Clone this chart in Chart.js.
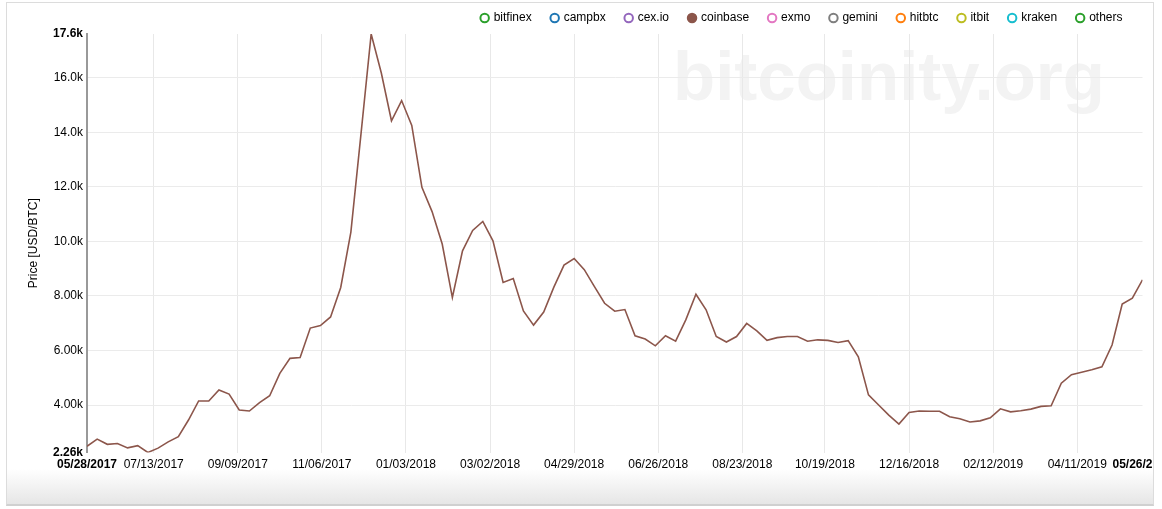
<!DOCTYPE html>
<html lang="en">
<head>
  <meta charset="UTF-8" />
  <title>Price [USD/BTC]</title>
  <script src="https://cdn.jsdelivr.net/npm/chart.js@4.4.1/dist/chart.umd.min.js"></script>
  <style>
    html, body { margin: 0; padding: 0; background: #fff; }
    body { width: 1162px; height: 509px; position: relative; overflow: hidden; }
    #frame {
      position: absolute; left: 6px; top: 2px; width: 1146px; height: 501px;
      border: 1px solid #dcdcdc; border-bottom: 2px solid #d0d0d0;
      background: linear-gradient(to bottom, #fff 0%, #fff 93%, #e6e6e6 100%);
    }
    #priceChart { position: absolute; left: 0; top: 0; }
  </style>
</head>
<body>
  <div id="frame"></div>
  <canvas id="priceChart" width="1153" height="509"></canvas>

  <script>
    // exchanges in the legend, only coinbase is switched on
    const exchanges = ['bitfinex', 'campbx', 'cex.io', 'coinbase', 'exmo', 'gemini', 'hitbtc', 'itbit', 'kraken', 'others'];
    const exchangeColors = ['#2ca02c', '#1f77b4', '#9467bd', '#8c564b', '#e377c2', '#7f7f7f', '#ff7f0e', '#bcbd22', '#17becf', '#2ca02c'];
    const activeExchange = 'coinbase';

    // weekly coinbase price, first week starts 05/28/2017
    const startDate = '05/28/2017';
    const stepDays = 7;
    const coinbasePrice = [
      2490, 2750, 2560, 2590, 2430, 2510, 2260, 2420, 2650, 2840,
      3450, 4150, 4150, 4550, 4400, 3820, 3780, 4090, 4340, 5160,
      5710, 5740, 6820, 6910, 7230, 8310, 10340, 13950, 17600, 16170,
      14420, 15160, 14250, 11980, 11090, 9900, 7940, 9650, 10400, 10730,
      10020, 8490, 8640, 7450, 6930, 7410, 8320, 9130, 9370, 8960,
      8340, 7730, 7440, 7500, 6540, 6420, 6170, 6540, 6340, 7120,
      8060, 7490, 6510, 6310, 6510, 6990, 6720, 6370, 6470, 6510,
      6510, 6340, 6390, 6370, 6290, 6360, 5770, 4370, 4000, 3630,
      3300, 3730, 3780, 3770, 3770, 3570, 3500, 3380, 3420, 3530,
      3860, 3750, 3790, 3850, 3950, 3970, 4800, 5110, 5200, 5290,
      5400, 6200, 7700, 7920, 8590
    ];

    const xTickLabels = ['05/28/2017', '07/13/2017', '09/09/2017', '11/06/2017', '01/03/2018', '03/02/2018',
      '04/29/2018', '06/26/2018', '08/23/2018', '10/19/2018', '12/16/2018', '02/12/2019', '04/11/2019', '05/26/2019'];
    const yTickValues = [2260, 4000, 6000, 8000, 10000, 12000, 14000, 16000, 17600];

    const FONT = 'Liberation Sans, Arial, Helvetica, sans-serif';

    function dayOffset(s) {
      const [m, d, y] = s.split('/').map(Number);
      const [m0, d0, y0] = startDate.split('/').map(Number);
      return (Date.UTC(y, m - 1, d) - Date.UTC(y0, m0 - 1, d0)) / 86400000;
    }

    const datasets = exchanges.map((name, i) => ({
      label: name,
      data: name === activeExchange
        ? coinbasePrice.map((v, k) => ({ x: k * stepDays, y: v }))
        : [],
      borderColor: exchangeColors[i],
      backgroundColor: exchangeColors[i],
      borderWidth: 1.6,
      pointRadius: 0,
      tension: 0
    }));

    // first and last tick labels are bold
    const edgeFont = count => ctx => ({
      family: FONT, size: 12,
      weight: (ctx.index === 0 || ctx.index === count - 1) ? 'bold' : 'normal'
    });

    // big faint site name behind the grid
    const watermark = {
      id: 'watermark',
      beforeDraw(chart) {
        const c = chart.ctx;
        c.save();
        c.font = 'bold 69px ' + FONT;
        c.fillStyle = '#f3f3f3';
        c.textBaseline = 'alphabetic';
        c.textAlign = 'left';
        c.fillText('bitcoinity.org', 673, 100);
        c.restore();
      }
    };

    new Chart(document.getElementById('priceChart'), {
      type: 'line',
      data: { datasets },
      options: {
        responsive: false,
        animation: false,
        events: [],
        layout: { padding: { top: -8, left: 0, right: 10.5, bottom: 0 } },
        plugins: {
          tooltip: { enabled: false },
          legend: {
            position: 'top',
            align: 'end',
            maxHeight: 42,
            labels: {
              usePointStyle: true,
              boxWidth: 6,
              boxHeight: 6,
              padding: 20,
              color: '#111',
              font: { family: FONT, size: 12 },
              generateLabels: chart => chart.data.datasets.map((ds, i) => ({
                text: ds.label,
                fillStyle: ds.label === activeExchange ? ds.borderColor : '#fff',
                strokeStyle: ds.borderColor,
                lineWidth: 2,
                pointStyle: 'circle',
                hidden: false,
                datasetIndex: i
              }))
            }
          }
        },
        scales: {
          x: {
            type: 'linear',
            min: 0,
            max: (coinbasePrice.length - 1) * stepDays,
            afterBuildTicks: s => { s.ticks = xTickLabels.map(d => ({ value: dayOffset(d) })); },
            afterFit: s => { s.height = 56.5; s.paddingLeft = 0; s.paddingRight = 0; },
            border: { display: false },
            grid: {
              drawTicks: false,
              color: ctx => ctx.index === xTickLabels.length - 1 ? 'rgba(0,0,0,0)' : '#e8e8e8',
              lineWidth: 1
            },
            ticks: {
              padding: 5,
              maxRotation: 0,
              autoSkip: false,
              color: '#000',
              font: edgeFont(xTickLabels.length),
              callback: (v, i) => xTickLabels[i]
            }
          },
          y: {
            min: Math.min(...coinbasePrice),
            max: Math.max(...coinbasePrice),
            afterBuildTicks: s => { s.ticks = yTickValues.map(v => ({ value: v })); },
            afterFit: s => { s.width = 87; s.paddingTop = 0; s.paddingBottom = 0; },
            border: { display: true, color: '#999', width: 2 },
            grid: {
              drawTicks: false,
              color: ctx => (ctx.index === 0 || ctx.index === yTickValues.length - 1) ? 'rgba(0,0,0,0)' : '#ebebeb',
              lineWidth: 1
            },
            ticks: {
              padding: 4,
              color: '#000',
              font: edgeFont(yTickValues.length),
              callback: v => (v / 1000).toPrecision(3) + 'k'
            },
            title: {
              display: true,
              text: 'Price [USD/BTC]',
              color: '#000',
              font: { family: FONT, size: 12 },
              padding: { top: 26, bottom: 0 }
            }
          }
        }
      },
      plugins: [watermark]
    });
  </script>
</body>
</html>
